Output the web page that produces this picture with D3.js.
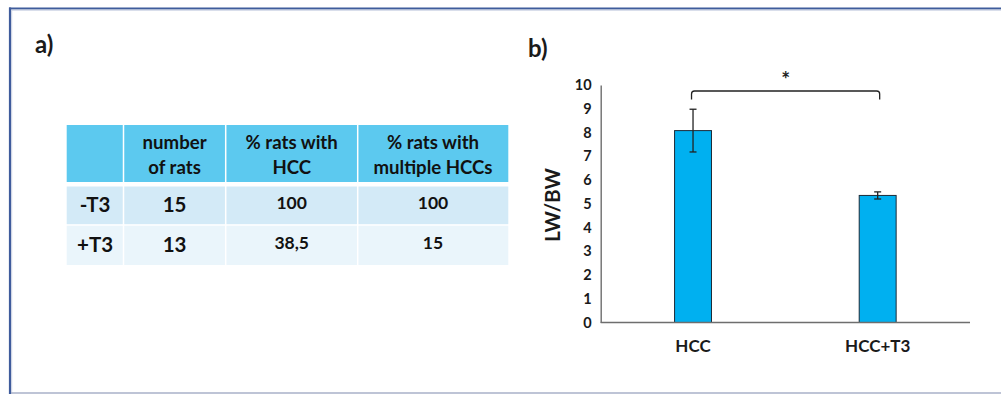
<!DOCTYPE html>
<html>
<head>
<meta charset="utf-8">
<script src="https://cdn.jsdelivr.net/npm/d3@7"></script>
<style>
  html, body { margin: 0; padding: 0; background: #fff; }
  svg { display: block; font-family: Lato, "Open Sans", sans-serif; font-weight: 700; }
</style>
</head>
<body>
<svg id="fig" width="1001" height="394"></svg>
<script>
// ---- panel a) table ----
const headerLines = [[], ["number", "of rats"], ["% rats with", "HCC"], ["% rats with", "multiple HCCs"]];
const groupLabels = ["-T3", "+T3"];
const numberOfRats = ["15", "13"];
const pctWithHCC = ["100", "38,5"];
const pctMultipleHCC = ["100", "15"];

// ---- panel b) bar chart ----
const categories = ["HCC", "HCC+T3"];
const lwbwMean = [8.08, 5.35];
const lwbwError = [0.9, 0.15];
const yTickValues = [0, 1, 2, 3, 4, 5, 6, 7, 8, 9, 10];

const svg = d3.select("#fig");

// outer frame
svg.append("line").attr("x1", 9).attr("x2", 1001).attr("y1", 8.5).attr("y2", 8.5)
  .attr("stroke", "#3f5c9c").attr("stroke-width", 2.2);
svg.append("line").attr("x1", 10).attr("x2", 10).attr("y1", 7.5).attr("y2", 394)
  .attr("stroke", "#3f5c9c").attr("stroke-width", 2.2);
svg.append("line").attr("x1", 11.5).attr("x2", 1001).attr("y1", 10.2).attr("y2", 10.2)
  .attr("stroke", "#c9d0e2").attr("stroke-width", 1);
svg.append("line").attr("x1", 11.7).attr("x2", 11.7).attr("y1", 10).attr("y2", 394)
  .attr("stroke", "#c9d0e2").attr("stroke-width", 1);
svg.append("line").attr("x1", 11).attr("x2", 1001).attr("y1", 393).attr("y2", 393)
  .attr("stroke", "#a9b1c9").attr("stroke-width", 1.6);

// panel letters
svg.append("text").attr("x", 35).attr("y", 53).attr("font-size", 24).attr("fill", "#1a1a1a").text("a)");
svg.append("text").attr("x", 528).attr("y", 57).attr("font-size", 24).attr("fill", "#1a1a1a").text("b)");

// ---- table ----
const colEdges = [66.7, 123.5, 225.7, 357.7, 508.3];
const gap = 1.5;
const rowSpec = [
  { y0: 125, y1: 182, fill: "#5cc9ef" },
  { y0: 186.5, y1: 224.2, fill: "#d3eaf7" },
  { y0: 225.7, y1: 265, fill: "#eaf5fb" }
];
const table = svg.append("g");
rowSpec.forEach(r => {
  for (let c = 0; c < 4; c++) {
    const x0 = colEdges[c] + (c === 0 ? 0 : gap / 2);
    const x1 = colEdges[c + 1] - (c === 3 ? 0 : gap / 2);
    table.append("rect").attr("x", x0).attr("y", r.y0)
      .attr("width", x1 - x0).attr("height", r.y1 - r.y0).attr("fill", r.fill);
  }
});
const colCenter = c => (colEdges[c] + colEdges[c + 1]) / 2;

// header text
headerLines.forEach((lines, c) => {
  lines.forEach((ln, i) => {
    table.append("text").attr("x", colCenter(c)).attr("y", 149 + i * 25)
      .attr("text-anchor", "middle").attr("font-size", 18.6).attr("fill", "#111").text(ln);
  });
});
// body text
const bodyBaselineLarge = [211.5, 251.5];
const bodyBaselineSmall = [209.3, 248.5];
groupLabels.forEach((g, i) => {
  table.append("text").attr("x", colCenter(0)).attr("y", bodyBaselineLarge[i])
    .attr("text-anchor", "middle").attr("font-size", 20.5).attr("fill", "#111").text(g);
  table.append("text").attr("x", colCenter(1)).attr("y", bodyBaselineLarge[i])
    .attr("text-anchor", "middle").attr("font-size", 20.5).attr("fill", "#111").text(numberOfRats[i]);
  table.append("text").attr("x", colCenter(2)).attr("y", bodyBaselineSmall[i])
    .attr("text-anchor", "middle").attr("font-size", 17.5).attr("fill", "#111").text(pctWithHCC[i]);
  table.append("text").attr("x", colCenter(3)).attr("y", bodyBaselineSmall[i])
    .attr("text-anchor", "middle").attr("font-size", 17.5).attr("fill", "#111").text(pctMultipleHCC[i]);
});

// ---- bar chart ----
const plotLeft = 600.7, plotRight = 970, plotTop = 85, plotBottom = 322.5;
const x = d3.scaleBand().domain(categories).range([plotLeft, plotRight]).padding(0);
const y = d3.scaleLinear().domain([0, 10]).range([plotBottom, plotTop]);
const barW = x.bandwidth() * 0.2;
const chart = svg.append("g");

// y axis
const yAxis = chart.append("g").attr("transform", `translate(${plotLeft},0)`)
  .call(d3.axisLeft(y).tickValues(yTickValues).tickSize(0).tickPadding(9));
yAxis.select(".domain").attr("stroke", "#6e6e6e").attr("stroke-width", 1.4);
yAxis.selectAll("text").attr("font-size", 14.5).attr("font-family", "Lato, sans-serif")
  .attr("font-weight", 700).attr("fill", "#1a1a1a");

// bars
chart.selectAll("rect.bar").data(categories).join("rect").attr("class", "bar")
  .attr("x", d => x(d) + x.bandwidth() / 2 - barW / 2)
  .attr("y", (d, i) => y(lwbwMean[i]))
  .attr("width", barW)
  .attr("height", (d, i) => y(0) - y(lwbwMean[i]))
  .attr("fill", "#00b0f0").attr("stroke", "#1d2b38").attr("stroke-width", 1);

// x axis line
chart.append("line").attr("x1", plotLeft).attr("x2", plotRight)
  .attr("y1", plotBottom).attr("y2", plotBottom)
  .attr("stroke", "#6e6e6e").attr("stroke-width", 1.6);

// x labels
const xAxis = chart.append("g").attr("transform", `translate(0,${plotBottom})`)
  .call(d3.axisBottom(x).tickSize(0).tickPadding(17));
xAxis.select(".domain").remove();
xAxis.selectAll("text").attr("font-size", 17).attr("font-family", "Lato, sans-serif")
  .attr("font-weight", 700).attr("fill", "#1a1a1a");

// error bars
categories.forEach((c, i) => {
  const cx = x(c) + x.bandwidth() / 2;
  const hi = y(lwbwMean[i] + lwbwError[i]), lo = y(lwbwMean[i] - lwbwError[i]);
  const g = chart.append("g").attr("stroke", "#222").attr("stroke-width", 1.3);
  g.append("line").attr("x1", cx).attr("x2", cx).attr("y1", hi).attr("y2", lo);
  g.append("line").attr("x1", cx - 3.5).attr("x2", cx + 3.5).attr("y1", hi).attr("y2", hi);
  g.append("line").attr("x1", cx - 3.5).attr("x2", cx + 3.5).attr("y1", lo).attr("y2", lo);
});

// y axis title
chart.append("text")
  .attr("transform", `translate(559.5,205) rotate(-90)`)
  .attr("text-anchor", "middle").attr("font-size", 20.3).attr("fill", "#1a1a1a").text("LW/BW");

// significance bracket
const bx0 = x(categories[0]) + x.bandwidth() / 2 - 1.5;
const bx1 = x(categories[1]) + x.bandwidth() / 2 + 2;
chart.append("path")
  .attr("d", `M${bx0},99.5 V94 Q${bx0},91 ${bx0 + 3},91 H${bx1 - 3} Q${bx1},91 ${bx1},94 V99.5`)
  .attr("fill", "none").attr("stroke", "#222").attr("stroke-width", 1.3);
chart.append("text").attr("x", (bx0 + bx1) / 2).attr("y", 87)
  .attr("text-anchor", "middle").attr("font-size", 21).attr("fill", "#222").text("*");
</script>
</body>
</html>
